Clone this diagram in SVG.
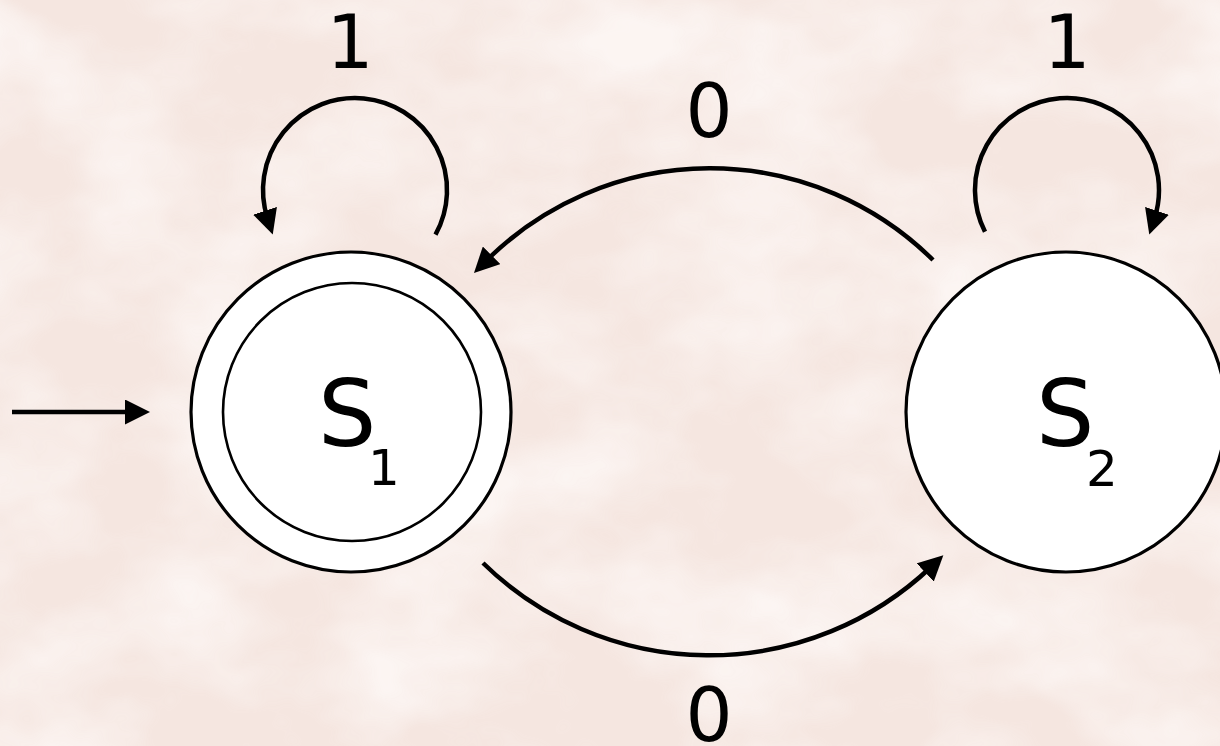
<svg xmlns="http://www.w3.org/2000/svg" width="1220" height="746" viewBox="0 0 1220 746">
  <style>
    .state { fill: #ffffff; stroke: #000000; stroke-width: 3.2; }
    .inner { fill: none; stroke: #000000; stroke-width: 2.6; }
    .edge { fill: none; stroke: #000000; stroke-width: 4.5; marker-end: url(#arrow); }
    .name { font-family: "DejaVu Sans", "Noto Sans", sans-serif; font-size: 92px; fill: #000000; }
    .sub { font-family: "DejaVu Sans", "Noto Sans", sans-serif; font-size: 50px; fill: #000000; }
    .label { font-family: "DejaVu Sans", "Noto Sans", sans-serif; font-size: 74px; fill: #000000; text-anchor: middle; }
  </style>
  <defs>
    <marker id="arrow" viewBox="0 0 25 25" markerWidth="25" markerHeight="25" markerUnits="userSpaceOnUse" refX="8" refY="12.5" orient="auto">
      <path d="M0,0 L25,12.5 L0,25 z" fill="#000000"/>
    </marker>
    <!-- soft marbled paper texture -->
    <filter id="marble" x="0" y="0" width="100%" height="100%">
      <feTurbulence type="fractalNoise" baseFrequency="0.006 0.009" numOctaves="4" seed="7" result="noise"/>
      <feColorMatrix in="noise" type="matrix" values="0 0 0 0 1  0 0 0 0 0.975  0 0 0 0 0.965  0 0 0 -2.2 1.45"/>
    </filter>
  </defs>

  <!-- background -->
  <rect width="1220" height="746" fill="#f5e6e0"/>
  <rect width="1220" height="746" filter="url(#marble)" opacity="0.7"/>

  <!-- transitions -->
  <g id="connectors">
    <path id="start" class="edge" d="M12,412 L133,412"/>
    <path id="s1-loop" class="edge" d="M435.5,234.6 A92,92 0 1 0 267.5,218.4"/>
    <path id="s2-loop" class="edge" d="M985,231.8 A92,92 0 1 1 1154.5,218.4"/>
    <path id="s2-s1" class="edge" d="M933,260 A317,317 0 0 0 486,261"/>
    <path id="s1-s2" class="edge" d="M483,563 A323,323 0 0 0 931,567"/>
    <text class="label" x="350" y="68">1</text>
    <text class="label" x="1067" y="68">1</text>
    <text class="label" x="709" y="137">0</text>
    <text class="label" x="709" y="741">0</text>
  </g>

  <!-- accepting start state -->
  <g id="S1">
    <circle class="state" cx="351" cy="412" r="160"/>
    <circle class="inner" cx="352" cy="412" r="129"/>
    <text class="name" x="318" y="446">S</text>
    <text class="sub" x="368" y="485">1</text>
  </g>

  <!-- second state -->
  <g id="S2">
    <circle class="state" cx="1066" cy="412" r="160"/>
    <text class="name" x="1036" y="446">S</text>
    <text class="sub" x="1086" y="486">2</text>
  </g>
</svg>
